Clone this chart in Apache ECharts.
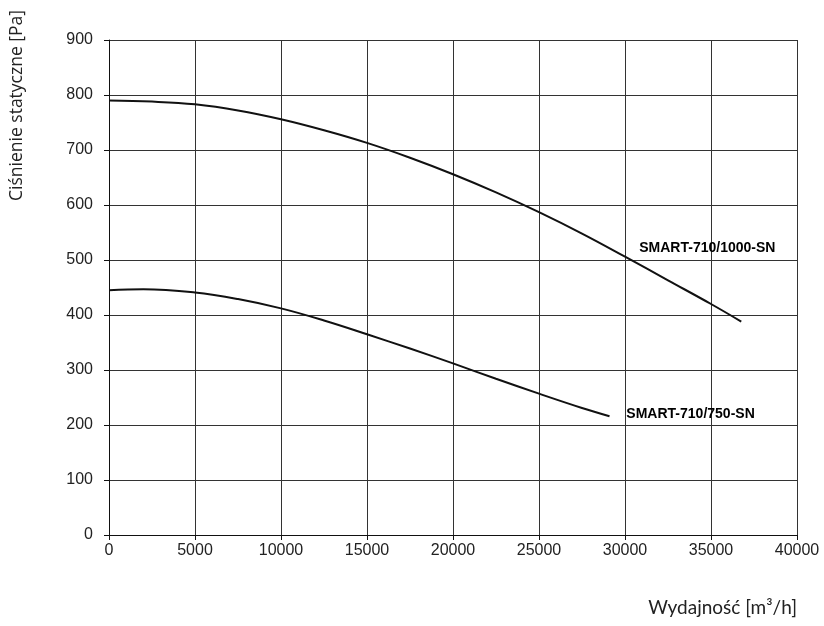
<!DOCTYPE html>
<html><head><meta charset="utf-8">
<script src="https://cdn.jsdelivr.net/npm/echarts@6/dist/echarts.min.js"></script>
<style>html,body{margin:0;padding:0;background:#fff}#c{width:824px;height:626px}</style>
</head><body><div id="c"></div>
<script>
const flowHigh = [0, 2500, 5000, 7500, 10000, 12500, 15000, 17500, 20000, 22500, 25000, 27500, 30000, 32500, 35000, 36760];
const pressHigh = [790, 788, 783, 772, 756, 736, 713, 686, 656, 623, 587, 548, 506, 463, 420, 388];
const flowLow = [0, 2000, 5000, 7500, 10000, 12500, 15000, 17500, 20000, 22500, 25000, 27500, 29100];
const pressLow = [445, 447, 441, 429, 412, 390, 365, 339, 312, 284, 257, 231, 216];
const seriesNames = ['SMART-710/1000-SN', 'SMART-710/750-SN'];
const labelAnchors = [[30800, 522], [30050, 219]];
const xTicks = [0, 5000, 10000, 15000, 20000, 25000, 30000, 35000, 40000];
const yTicks = [0, 100, 200, 300, 400, 500, 600, 700, 800, 900];

const zip = (a, b) => a.map((v, i) => [v, b[i]]);
const chart = echarts.init(document.getElementById('c'));
const labelSeries = (i) => ({
  type: 'scatter', silent: true, symbol: 'circle', symbolSize: 1,
  itemStyle: { color: 'rgba(0,0,0,0)' },
  data: [labelAnchors[i]],
  label: { show: true, formatter: seriesNames[i], position: 'right', distance: 0, opacity: 1,
    fontFamily: 'Liberation Sans, Arial', fontWeight: 'bold', fontSize: 14, color: '#000' }
});
chart.setOption({
  animation: false,
  grid: { left: 109, right: 27, top: 40, bottom: 91 },
  xAxis: {
    type: 'value', min: 0, max: 40000, interval: 5000,
    name: 'Wydajność [m³/h]', nameLocation: 'end', nameGap: 0,
    nameTextStyle: { fontFamily: 'Lato', fontSize: 19, color: '#222', align: 'right', verticalAlign: 'top', padding: [63, 0, 0, 0] },
    axisLine: { show: true, lineStyle: { color: '#111', width: 1 } },
    axisTick: { show: true, length: 5, lineStyle: { color: '#111' } },
    axisLabel: { fontFamily: 'Liberation Sans, Arial', fontSize: 16, color: '#222', margin: 8,
      formatter: (v) => String(v) },
    splitLine: { show: true, lineStyle: { color: '#333', width: 1 } }
  },
  yAxis: {
    type: 'value', min: 0, max: 900, interval: 100,
    name: 'Ciśnienie statyczne [Pa]', nameLocation: 'end', nameRotate: 90, nameGap: 0,
    nameTextStyle: { fontFamily: 'Open Sans', fontSize: 17.5, color: '#222', align: 'right', verticalAlign: 'bottom', padding: [0, -30, 83, 0] },
    axisLine: { show: true, lineStyle: { color: '#111', width: 1 } },
    axisTick: { show: true, length: 5, lineStyle: { color: '#111' } },
    axisLabel: { fontFamily: 'Liberation Sans, Arial', fontSize: 16, color: '#222', margin: 16 },
    splitLine: { show: true, lineStyle: { color: '#333', width: 1 } }
  },
  series: [
    { name: seriesNames[0], type: 'line', smooth: 0.4, symbol: 'none', data: zip(flowHigh, pressHigh),
      lineStyle: { color: '#111', width: 2 } },
    { name: seriesNames[1], type: 'line', smooth: 0.4, symbol: 'none', data: zip(flowLow, pressLow),
      lineStyle: { color: '#111', width: 2 } },
    labelSeries(0), labelSeries(1)
  ]
});
</script></body></html>
